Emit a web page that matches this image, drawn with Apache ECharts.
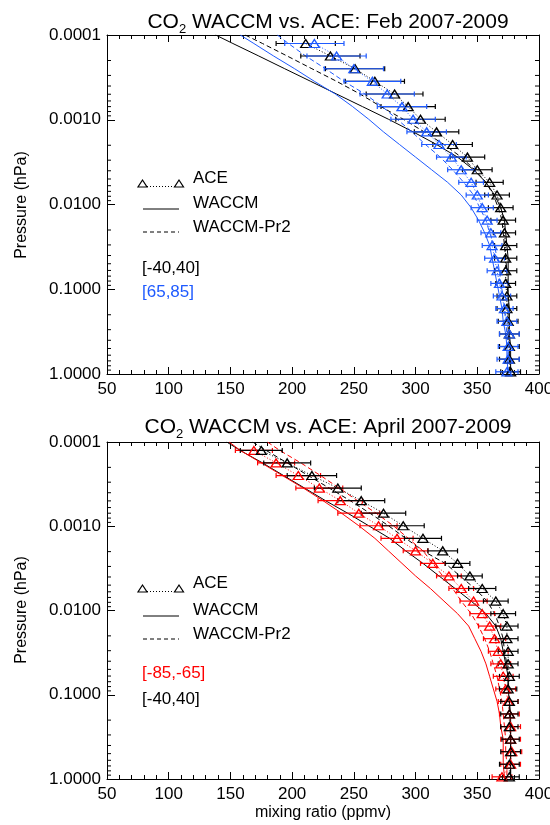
<!DOCTYPE html>
<html>
<head>
<meta charset="utf-8">
<script src="https://cdn.jsdelivr.net/npm/echarts@6/dist/echarts.min.js"></script>
<style>
  html, body { margin: 0; padding: 0; background: #fff; }
  #main { width: 550px; height: 825px; }
</style>
</head>
<body>
<div id="main"></div>
<script>
// pressure levels (hPa) of the ACE profiles
var aceLevels = [0.000126, 0.000177, 0.000250, 0.000352, 0.000497, 0.000700, 0.000986, 0.00139, 0.00196,
  0.00276, 0.00389, 0.00548, 0.00773, 0.0109, 0.0153, 0.0216, 0.0305, 0.0430, 0.0605,
  0.0853, 0.120, 0.169, 0.239, 0.337, 0.474, 0.668, 0.942];
// model levels: top of plot, ACE levels, bottom of plot
var modelLevels = [0.0001].concat(aceLevels, [1.0]);

// ---- Feb 2007-2009 ----
var aceEqFeb    = [211, 231, 251, 267, 283, 294, 304, 317, 330, 342, 350, 360, 366, 369, 371, 372, 373, 373, 373, 373, 374, 374, 375, 376, 376, 376, 377];
var aceEqFebErr = [24, 24, 24, 24, 23, 22, 20, 18, 16, 14, 12, 11, 10, 10, 10, 9, 9, 9, 9, 8, 8, 8, 8, 8, 8, 8, 8];
var aceNhFeb    = [218, 236, 250, 265, 277, 289, 298, 309, 319, 329, 337, 345, 350, 354, 358, 361, 362, 364, 366, 368, 370, 372, 374, 376, 375, 375, 374];
var aceNhFebErr = [24, 24, 24, 23, 22, 20, 18, 16, 14, 12, 11, 10, 9, 9, 8, 8, 8, 8, 8, 7, 7, 7, 8, 8, 8, 9, 9];
var waccmEqFeb  = [138, 152, 173, 194, 215, 236, 257, 278, 298, 317, 334, 347, 357, 364, 369, 372, 373, 374, 375, 375, 375, 375, 376, 376, 376, 377, 377, 377, 377];
var waccmNhFeb  = [158, 169, 185, 202, 218, 235, 249, 262, 274, 287, 300, 313, 326, 337, 345, 351, 356, 360, 362, 364, 366, 368, 370, 371, 373, 374, 374, 375, 375];
var pr2EqFeb    = [162, 176, 196, 216, 236, 255, 272, 290, 307, 323, 337, 348, 357, 363, 367, 370, 371, 372, 373, 374, 374, 375, 375, 375, 375, 376, 376, 376, 376];
var pr2NhFeb    = [188, 197, 211, 227, 242, 259, 273, 285, 297, 308, 320, 330, 339, 347, 352, 357, 360, 364, 366, 368, 369, 371, 372, 373, 374, 375, 375, 375, 375];

// ---- April 2007-2009 ----
var aceEqApr    = [175, 196, 216, 237, 256, 274, 290, 306, 322, 334, 344, 354, 365, 371, 374, 374, 375, 375, 376, 375, 376, 376, 376, 377, 377, 376, 376];
var aceEqAprErr = [17, 19, 20, 19, 19, 18, 17, 15, 12, 10, 10, 11, 10, 10, 9, 9, 8, 8, 8, 7, 7, 7, 7, 7, 8, 8, 8];
var aceShApr    = [169, 187, 205, 222, 239, 254, 270, 285, 300, 314, 327, 337, 347, 354, 360, 364, 367, 369, 371, 373, 375, 376, 377, 377, 378, 377, 370];
var aceShAprErr = [15, 15, 18, 19, 18, 17, 15, 13, 10, 10, 10, 10, 11, 10, 9, 9, 8, 8, 8, 8, 8, 8, 8, 8, 8, 8, 8];
var waccmEqApr  = [147, 158, 176, 193, 210, 227, 245, 262, 279, 292, 306, 319, 332, 345, 357, 365, 369, 371, 373, 375, 375, 376, 377, 377, 377, 377, 377, 377, 377];
var waccmShApr  = [149, 158, 175, 192, 209, 225, 240, 254, 267, 278, 289, 300, 312, 323, 334, 343, 348, 353, 357, 360, 363, 366, 368, 369, 371, 371, 371, 372, 372];
var pr2EqApr    = [168, 179, 196, 213, 230, 247, 263, 278, 292, 306, 324, 336, 348, 358, 364, 368, 371, 372, 374, 375, 375, 376, 376, 377, 377, 377, 377, 377, 377];
var pr2ShApr    = [180, 190, 207, 223, 238, 253, 268, 282, 294, 306, 314, 322, 330, 337, 345, 351, 356, 360, 363, 366, 368, 370, 371, 372, 373, 373, 374, 374, 374];

var xTicks = [50, 400, 50];           // min, max, step
var pLabels = [0.0001, 1.0];          // y range

var BLUE = '#1e5aff', RED = '#ff0000', BLACK = '#000';
var FONT = 'Liberation Sans';

var minorVals = [];
for (var d = -4; d < 0; d++) {
  for (var k = 2; k <= 9; k++) minorVals.push(+(k * Math.pow(10, d)).toPrecision(3));
}

function pairs(vals, levels) {
  return vals.map(function (v, i) { return [v, levels[i]]; });
}

function modelLine(vals, color, dash, g) {
  return {
    type: 'line', xAxisIndex: g * 2, yAxisIndex: g * 2, data: pairs(vals, modelLevels),
    symbol: 'none', silent: true, z: 2,
    lineStyle: { color: color, width: 1, type: dash ? [5, 3] : 'solid' }
  };
}

function aceLine(vals, color, g) {
  return {
    type: 'line', xAxisIndex: g * 2, yAxisIndex: g * 2, data: pairs(vals, aceLevels),
    symbol: 'triangle', symbolSize: [10, 8], showSymbol: true, silent: true, z: 4,
    itemStyle: { color: 'rgba(0,0,0,0)', borderColor: color, borderWidth: 1.3 },
    lineStyle: { color: color, width: 1, type: [1, 2] }
  };
}

function errBars(vals, errs, color, g) {
  return {
    type: 'custom', xAxisIndex: g * 2, yAxisIndex: g * 2, silent: true, z: 3,
    data: vals.map(function (v, i) { return [v, aceLevels[i], errs[i]]; }),
    encode: { x: 0, y: 1 },
    renderItem: function (params, api) {
      var l = api.coord([api.value(0) - api.value(2), api.value(1)]);
      var r = api.coord([api.value(0) + api.value(2), api.value(1)]);
      var st = { stroke: color, lineWidth: 1.2, fill: null };
      return { type: 'group', children: [
        { type: 'line', shape: { x1: l[0], y1: l[1], x2: r[0], y2: r[1] }, style: st },
        { type: 'line', shape: { x1: l[0], y1: l[1] - 2.5, x2: l[0], y2: l[1] + 2.5 }, style: st },
        { type: 'line', shape: { x1: r[0], y1: r[1] - 2.5, x2: r[0], y2: r[1] + 2.5 }, style: st }
      ]};
    }
  };
}

// log minor ticks on left and right frame
function minorTicks(g) {
  return {
    type: 'custom', xAxisIndex: g * 2, yAxisIndex: g * 2, silent: true, z: 5,
    data: minorVals.map(function (v) { return [xTicks[0], v]; }),
    encode: { x: 0, y: 1 },
    renderItem: function (params, api) {
      var a = api.coord([xTicks[0], api.value(1)]);
      var b = api.coord([xTicks[1], api.value(1)]);
      var st = { stroke: BLACK, lineWidth: 1 };
      return { type: 'group', children: [
        { type: 'line', shape: { x1: a[0], y1: a[1], x2: a[0] + 4, y2: a[1] }, style: st },
        { type: 'line', shape: { x1: b[0] - 4, y1: b[1], x2: b[0], y2: b[1] }, style: st }
      ]};
    }
  };
}

function xAxes(g, pos) {
  return {
    type: 'value', gridIndex: g, position: pos, min: xTicks[0], max: xTicks[1], interval: xTicks[2],
    axisLine: { show: true, onZero: false, lineStyle: { color: BLACK, width: 1 } },
    axisTick: { show: true, inside: true, length: 7, lineStyle: { color: BLACK } },
    minorTick: { show: true, splitNumber: 5, length: 4, lineStyle: { color: BLACK } },
    splitLine: { show: false },
    axisLabel: { show: pos === 'bottom', color: BLACK, fontSize: 17, fontFamily: FONT, margin: 7 }
  };
}

function yAxes(g, pos) {
  return {
    type: 'log', logBase: 10, gridIndex: g, position: pos, min: pLabels[0], max: pLabels[1], inverse: true,
    axisLine: { show: true, onZero: false, lineStyle: { color: BLACK, width: 1 } },
    axisTick: { show: true, inside: true, length: 8, lineStyle: { color: BLACK } },
    splitLine: { show: false },
    axisLabel: {
      show: pos === 'left', color: BLACK, fontSize: 17, fontFamily: FONT, margin: 6,
      formatter: function (v) { return (+v).toFixed(4); }
    }
  };
}

function txt(x, y, s, color, size) {
  return { type: 'text', x: x, y: y, silent: true, style: {
    text: s, fill: color || BLACK, font: (size || 17) + 'px ' + FONT,
    align: 'left', verticalAlign: 'middle', textAlign: 'left', textVerticalAlign: 'middle' } };
}
function seg(x1, y1, x2, y2, dash) {
  return { type: 'line', silent: true, shape: { x1: x1, y1: y1, x2: x2, y2: y2 },
    style: { stroke: BLACK, lineWidth: 1, lineDash: dash || null } };
}
function tri(cx, cy) {
  return { type: 'polygon', silent: true, shape: { points: [[cx, cy - 4], [cx - 4.5, cy + 3], [cx + 4.5, cy + 3]] },
    style: { stroke: BLACK, fill: null, lineWidth: 1.2 } };
}
function legend(yAce, yW, yP, regions) {
  var out = [
    tri(142.5, yAce + 6), tri(179, yAce + 6), seg(147, yAce + 8.5, 174.5, yAce + 8.5, [1, 2]),
    txt(193, yAce, 'ACE'),
    seg(143, yW + 6, 179, yW + 6), txt(193, yW, 'WACCM'),
    seg(143, yP + 5, 179, yP + 5, [4, 3]), txt(193, yP, 'WACCM-Pr2')
  ];
  regions.forEach(function (r) { out.push(txt(142, r[1], r[0], r[2])); });
  return out;
}

function title(label, top) {
  return {
    text: '{m|CO}{s|2}{m| WACCM vs. ACE: ' + label + '}',
    left: 323, top: top, textAlign: 'center',
    textStyle: { fontWeight: 'normal', rich: {
      m: { fontSize: 21, fontFamily: FONT, fontWeight: 'normal', color: BLACK },
      s: { fontSize: 13, fontFamily: FONT, fontWeight: 'normal', color: BLACK, padding: [14, 0, 0, 0] }
    } }
  };
}

function vtxt(x, y, s, rot) {
  return { type: 'text', x: x, y: y, rotation: rot, silent: true, style: {
    text: s, font: '16px ' + FONT, fill: BLACK,
    align: 'center', verticalAlign: 'middle', textAlign: 'center', textVerticalAlign: 'middle' } };
}

var chart = echarts.init(document.getElementById('main'), null, { renderer: 'canvas' });
chart.setOption({
  animation: false,
  backgroundColor: '#fff',
  title: [title('Feb 2007-2009', 4), title('April 2007-2009', 409)],
  grid: [
    { left: 107, top: 35, width: 432, height: 339, containLabel: false, outerBoundsMode: 'none' },
    { left: 107, top: 442, width: 432, height: 337, containLabel: false, outerBoundsMode: 'none' }
  ],
  xAxis: [xAxes(0, 'bottom'), xAxes(0, 'top'), xAxes(1, 'bottom'), xAxes(1, 'top')],
  yAxis: [yAxes(0, 'left'), yAxes(0, 'right'), yAxes(1, 'left'), yAxes(1, 'right')],
  series: [
    minorTicks(0), minorTicks(1),
    modelLine(waccmEqFeb, BLACK, false, 0), modelLine(waccmNhFeb, BLUE, false, 0),
    modelLine(pr2EqFeb, BLACK, true, 0), modelLine(pr2NhFeb, BLUE, true, 0),
    errBars(aceEqFeb, aceEqFebErr, BLACK, 0), errBars(aceNhFeb, aceNhFebErr, BLUE, 0),
    aceLine(aceEqFeb, BLACK, 0), aceLine(aceNhFeb, BLUE, 0),

    modelLine(waccmEqApr, BLACK, false, 1), modelLine(waccmShApr, RED, false, 1),
    modelLine(pr2EqApr, BLACK, true, 1), modelLine(pr2ShApr, RED, true, 1),
    errBars(aceShApr, aceShAprErr, RED, 1), errBars(aceEqApr, aceEqAprErr, BLACK, 1),
    aceLine(aceShApr, RED, 1), aceLine(aceEqApr, BLACK, 1)
  ],
  graphic: [].concat(
    legend(178, 203, 227, [['[-40,40]', 268, BLACK], ['[65,85]', 292, BLUE]]),
    legend(583, 610, 634, [['[-85,-65]', 673, RED], ['[-40,40]', 699, BLACK]]),
    [
      vtxt(22, 205, 'Pressure (hPa)', Math.PI / 2),
      vtxt(22, 610, 'Pressure (hPa)', Math.PI / 2),
      vtxt(323, 813, 'mixing ratio (ppmv)', 0)
    ]
  )
});
</script>
</body>
</html>
